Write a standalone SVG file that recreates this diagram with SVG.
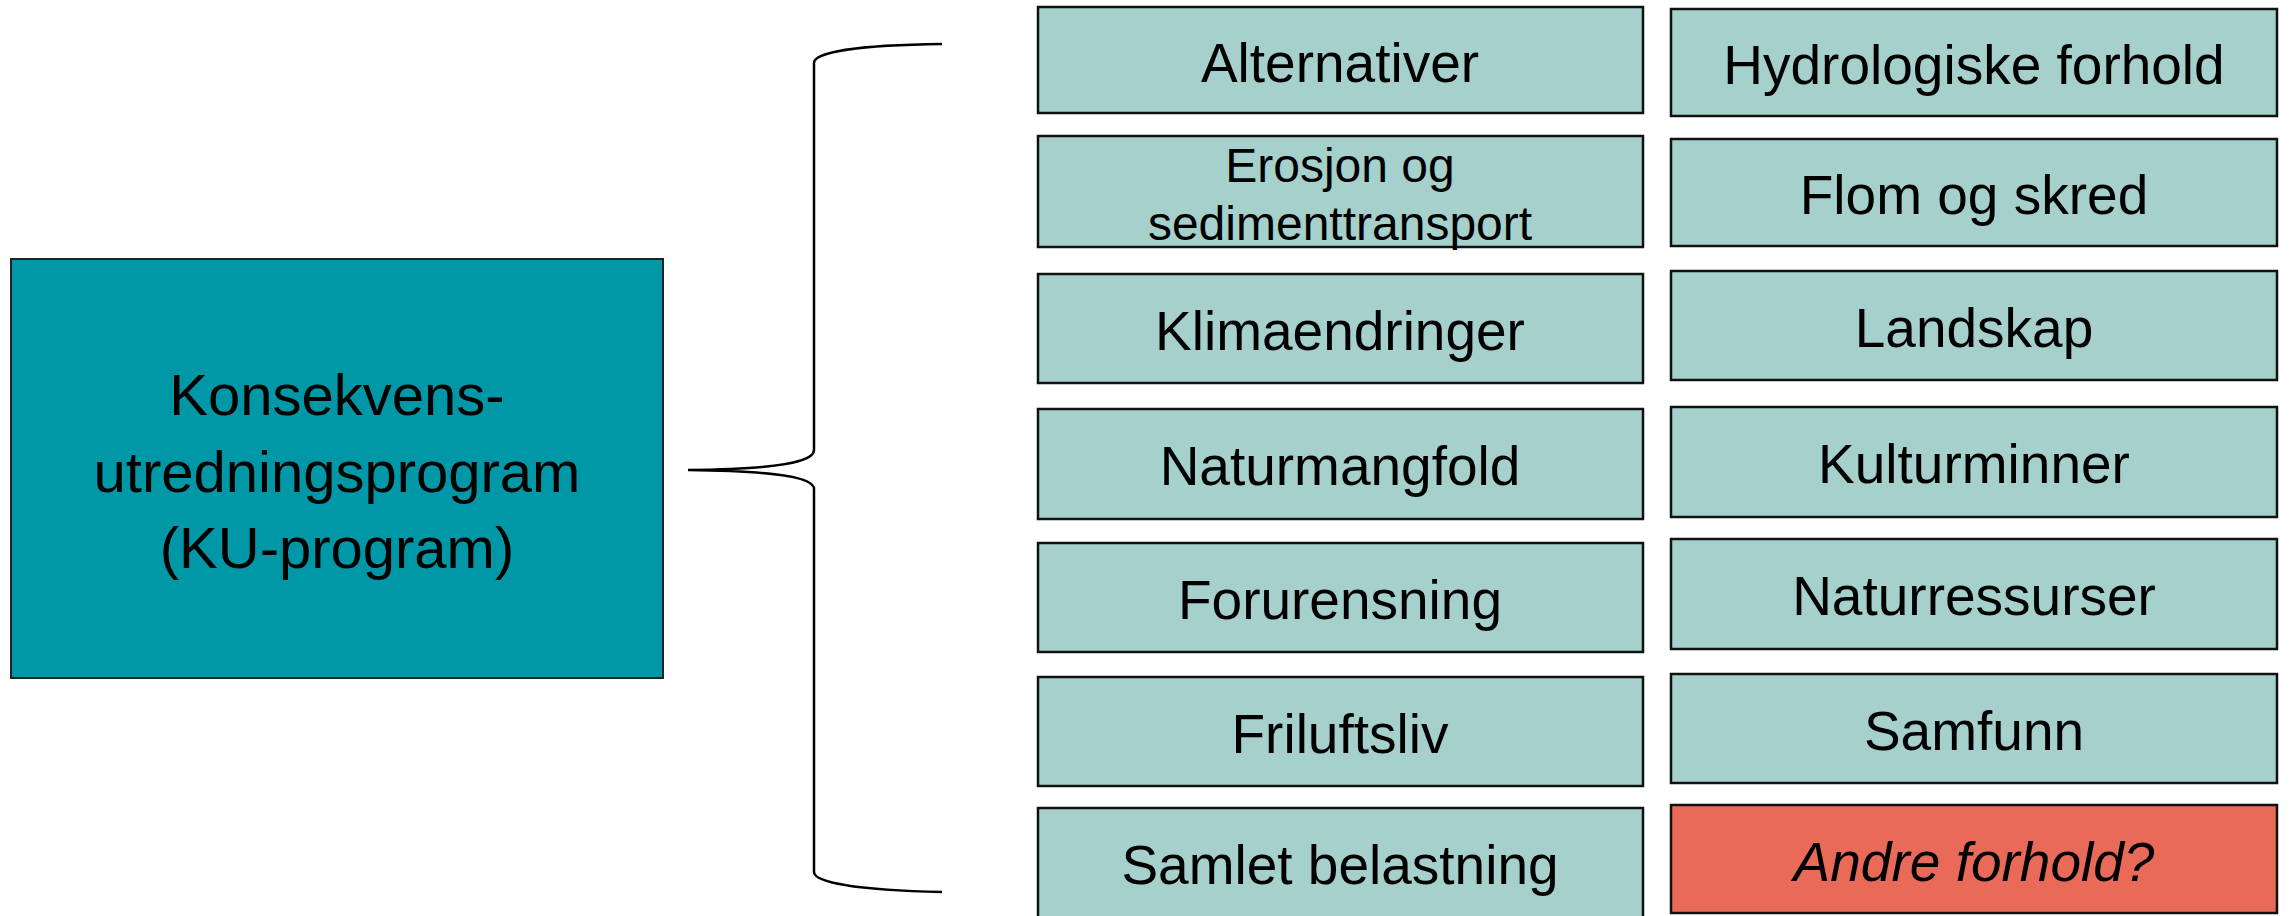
<svg xmlns="http://www.w3.org/2000/svg" width="2290" height="916" viewBox="0 0 2290 916">
<style>
  .box { fill: #A5D0CB; stroke: #111; stroke-width: 2.5; }
  .red { fill: #E96A58; stroke: #111; stroke-width: 2.5; }
  .main { fill: #0097A7; stroke: #222; stroke-width: 2; }
  .t { font-family: "Liberation Sans", Arial, sans-serif; font-size: 55px; fill: #000; text-anchor: middle; }
  .ts { font-family: "Liberation Sans", Arial, sans-serif; font-size: 48px; fill: #000; text-anchor: middle; }
  .tm { font-family: "Liberation Sans", Arial, sans-serif; font-size: 58px; fill: #000; text-anchor: middle; }
  .it { font-style: italic; }
  .conn { fill: none; stroke: #000; stroke-width: 2.5; }
</style>
<rect width="2290" height="916" fill="#fff"/>
<g id="main">
  <rect class="main" x="11" y="259" width="652" height="419"/>
  <text class="tm" x="337" y="415">Konsekvens-</text>
  <text class="tm" x="337" y="492">utredningsprogram</text>
  <text class="tm" x="337" y="568">(KU-program)</text>
</g>
<g id="connectors">
  <path class="conn" d="M942,44 C860,45 814,52 814,63 L814,450 C814,462 780,469 688,470 C780,471 814,478 814,489 L814,872 C814,883 860,890 942,892"/>
</g>
<g id="n-alternativer"><rect class="box" x="1038" y="7" width="605" height="106"/><text class="t" x="1340" y="82">Alternativer</text></g>
<g id="n-erosjon"><rect class="box" x="1038" y="136" width="605" height="111"/><text class="ts" x="1340" y="182">Erosjon og</text><text class="ts" x="1340" y="240">sedimenttransport</text></g>
<g id="n-klima"><rect class="box" x="1038" y="274" width="605" height="109"/><text class="t" x="1340" y="350">Klimaendringer</text></g>
<g id="n-naturmangfold"><rect class="box" x="1038" y="409" width="605" height="110"/><text class="t" x="1340" y="485">Naturmangfold</text></g>
<g id="n-forurensning"><rect class="box" x="1038" y="543" width="605" height="109"/><text class="t" x="1340" y="619">Forurensning</text></g>
<g id="n-friluftsliv"><rect class="box" x="1038" y="677" width="605" height="109"/><text class="t" x="1340" y="753">Friluftsliv</text></g>
<g id="n-samlet"><rect class="box" x="1038" y="808" width="605" height="115"/><text class="t" x="1340" y="884">Samlet belastning</text></g>
<g id="n-hydrologiske"><rect class="box" x="1671" y="9" width="606" height="107"/><text class="t" x="1974" y="84">Hydrologiske forhold</text></g>
<g id="n-flom"><rect class="box" x="1671" y="139" width="606" height="107"/><text class="t" x="1974" y="214">Flom og skred</text></g>
<g id="n-landskap"><rect class="box" x="1671" y="271" width="606" height="109"/><text class="t" x="1974" y="347">Landskap</text></g>
<g id="n-kulturminner"><rect class="box" x="1671" y="407" width="606" height="110"/><text class="t" x="1974" y="483">Kulturminner</text></g>
<g id="n-naturressurser"><rect class="box" x="1671" y="539" width="606" height="110"/><text class="t" x="1974" y="615">Naturressurser</text></g>
<g id="n-samfunn"><rect class="box" x="1671" y="674" width="606" height="109"/><text class="t" x="1974" y="750">Samfunn</text></g>
<g id="n-andre"><rect class="red" x="1671" y="805" width="606" height="108"/><text class="t it" x="1974" y="881">Andre forhold?</text></g>
</svg>
